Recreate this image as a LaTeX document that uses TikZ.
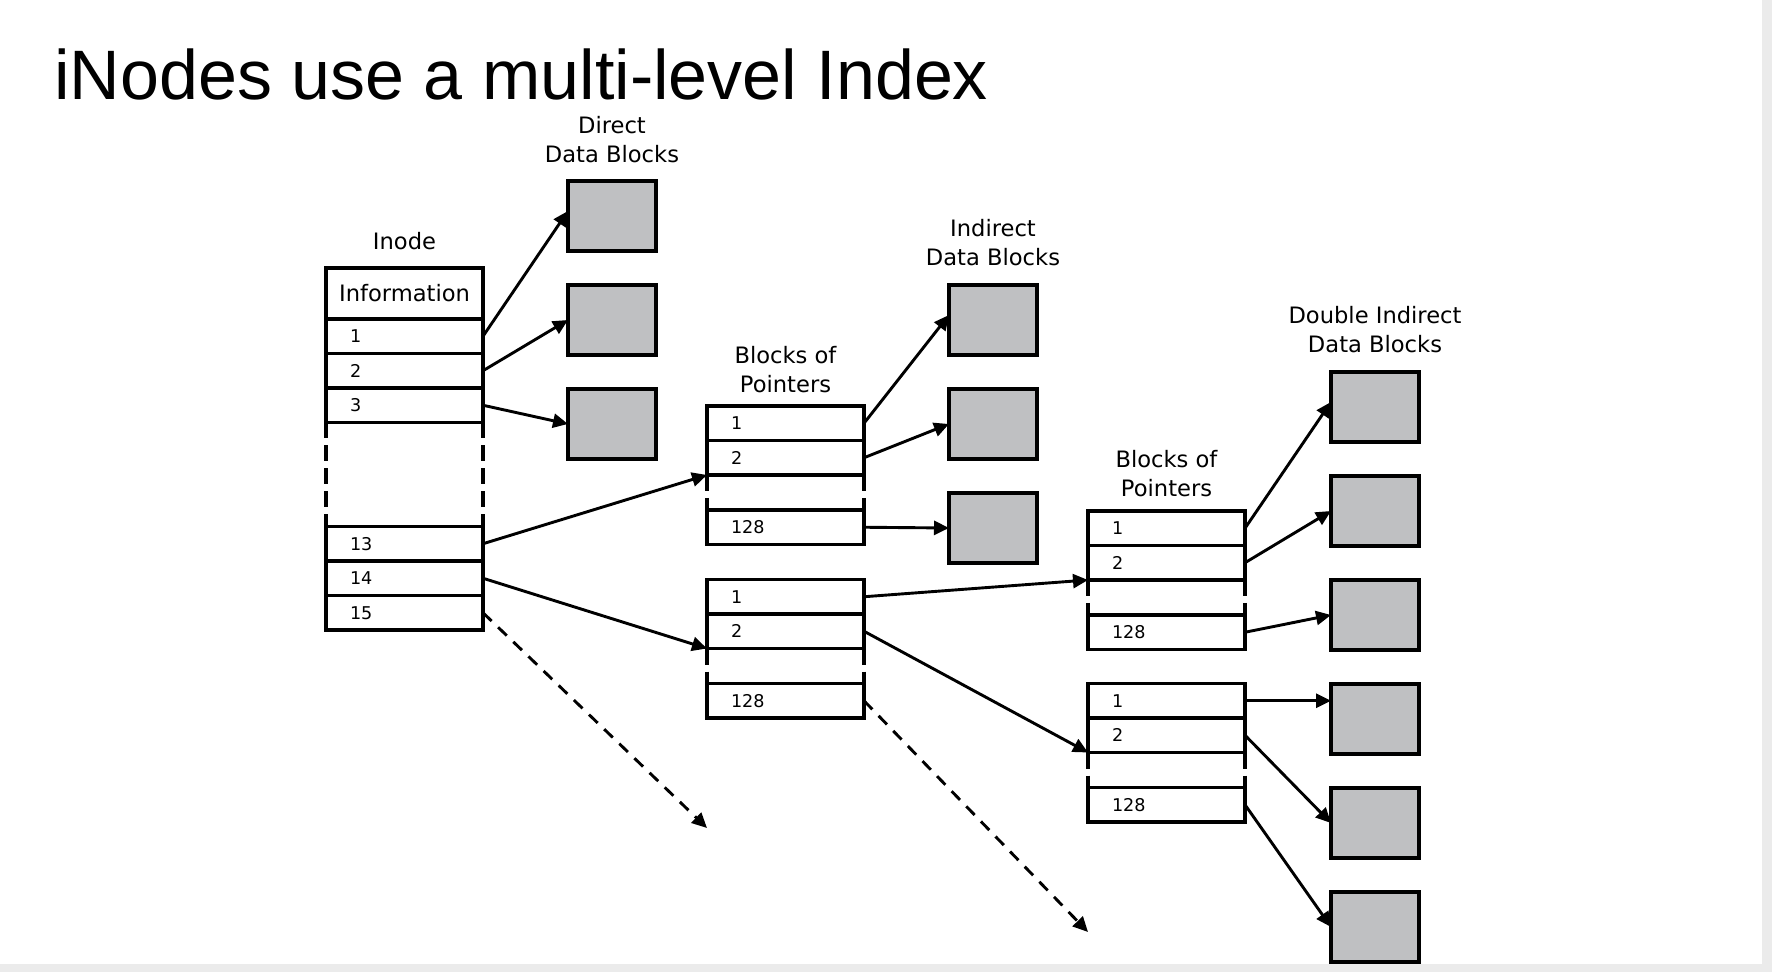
\documentclass[tikz,border=0pt]{standalone}
\usepackage{fontspec}
\usepackage{xcolor}
\usetikzlibrary{positioning,calc,arrows.meta}
\newfontfamily\labelfont{DejaVu Sans}
\newfontfamily\titlefont{Liberation Sans}
\definecolor{blockgray}{RGB}{191,192,194}
\definecolor{slidegray}{RGB}{235,235,235}
\tikzset{
  entry/.style={ % one slot of the inode or of a block of pointers
    draw, rectangle, line width=1.6pt, outer sep=0pt,
    minimum width=78.5pt, minimum height=17.25pt,
    inner xsep=12pt, inner ysep=0pt, text width=54.5pt, align=left,
    font=\labelfont\fontsize{8.8}{10}\selectfont
  },
  info/.style={ % the information slot on top of the inode
    draw, rectangle, line width=1.6pt, outer sep=0pt,
    minimum width=78.5pt, minimum height=25.5pt, inner sep=0pt,
    font=\labelfont\fontsize{11.3}{14}\selectfont
  },
  datablock/.style={ % a grey data block
    draw, rectangle, line width=1.6pt, outer sep=0pt, fill=blockgray,
    minimum width=44pt, minimum height=35pt
  },
  caption/.style={
    align=center, inner sep=0pt, font=\labelfont\fontsize{11.3}{14.3}\selectfont
  },
  gapline/.style={line width=1.6pt, dash pattern=on 8pt off 3.5pt},
  ptr/.style={->, line width=1.45pt},
  more/.style={->, line width=1.45pt, dash pattern=on 6pt off 4.5pt}
}
\begin{document}
\begin{tikzpicture}[x=0.5pt, y=-0.5pt, >={Triangle[length=7.5pt,width=7pt]}]

  \fill[slidegray] (0,0) rectangle (1772,972);
  \fill[white] (0,0) rectangle (1762,964);
  \useasboundingbox (0,0) rectangle (1772,972);

  \node[anchor=base west, inner sep=0pt, font=\titlefont\fontsize{35}{42}\selectfont] (title) at (54,100) {iNodes use a multi-level Index};

  % the inode
  \node[info, anchor=north west] (info) at (326,268) {Information};
  \node[entry, below=0pt of info] (i1) {1};
  \node[entry, below=0pt of i1] (i2) {2};
  \node[entry, below=0pt of i2] (i3) {3};
  \node[entry, below=52pt of i3] (i13) {13};
  \node[entry, below=0pt of i13] (i14) {14};
  \node[entry, below=0pt of i14] (i15) {15};
  \draw[gapline] (i3.south west) -- (i13.north west) (i3.south east) -- (i13.north east);

  % blocks of pointers
  \node[entry, anchor=north west] (pa1) at (707,406) {1};
  \node[entry, below=0pt of pa1] (pa2) {2};
  \node[entry, below=17.5pt of pa2] (pa128) {128};
  \node[entry, below=17.5pt of pa128] (pb1) {1};
  \node[entry, below=0pt of pb1] (pb2) {2};
  \node[entry, below=17.5pt of pb2] (pb128) {128};
  \draw[gapline] (pa2.south west) -- (pa128.north west) (pa2.south east) -- (pa128.north east);
  \draw[gapline] (pb2.south west) -- (pb128.north west) (pb2.south east) -- (pb128.north east);

  \node[entry, anchor=north west] (qa1) at (1088,511) {1};
  \node[entry, below=0pt of qa1] (qa2) {2};
  \node[entry, below=17.5pt of qa2] (qa128) {128};
  \node[entry, below=17pt of qa128] (qb1) {1};
  \node[entry, below=0pt of qb1] (qb2) {2};
  \node[entry, below=17.5pt of qb2] (qb128) {128};
  \draw[gapline] (qa2.south west) -- (qa128.north west) (qa2.south east) -- (qa128.north east);
  \draw[gapline] (qb2.south west) -- (qb128.north west) (qb2.south east) -- (qb128.north east);

  % data blocks
  \node[datablock] (d1) at (612,216) {};
  \node[datablock, below=17pt of d1] (d2) {};
  \node[datablock, below=17pt of d2] (d3) {};

  \node[datablock] (e1) at (993,320) {};
  \node[datablock, below=17pt of e1] (e2) {};
  \node[datablock, below=17pt of e2] (e3) {};

  \node[datablock] (f1) at (1375,407) {};
  \node[datablock, below=17pt of f1] (f2) {};
  \node[datablock, below=17pt of f2] (f3) {};
  \node[datablock, below=17pt of f3] (f4) {};
  \node[datablock, below=17pt of f4] (f5) {};
  \node[datablock, below=17pt of f5] (f6) {};

  % captions
  \node[caption, above=9pt of info] (inode_label) {Inode};
  \node[caption, above=9pt of d1] (direct_label) {Direct\\Data Blocks};
  \node[caption, above=9.5pt of e1] (indirect_label) {Indirect\\Data Blocks};
  \node[caption, above=9.5pt of f1] (dindirect_label) {Double Indirect\\Data Blocks};
  \node[caption, above=6.5pt of pa1] (pa_label) {Blocks of\\Pointers};
  \node[caption, above=7pt of qa1] (qa_label) {Blocks of\\Pointers};

  \coordinate (i15_end) at (707,828);
  \coordinate (pb128_end) at (1088,932);

  % pointers
  \draw[ptr] (i1.east) -- ([yshift=2.5pt]d1.west);
  \draw[ptr] (i2.east) -- (d2.west);
  \draw[ptr] (i3.east) -- (d3.west);
  \draw[ptr] (i13.east) -- (pa2.south west);
  \draw[ptr] (i14.east) -- (pb2.south west);
  \draw[more] (i15.east) -- (i15_end);

  \draw[ptr] (pa1.east) -- ([yshift=2.5pt]e1.west);
  \draw[ptr] (pa2.east) -- (e2.west);
  \draw[ptr] (pa128.east) -- (e3.west);
  \draw[ptr] (pb1.east) -- (qa2.south west);
  \draw[ptr] (pb2.east) -- (qb2.south west);
  \draw[more] (pb128.east) -- (pb128_end);

  \draw[ptr] (qa1.east) -- ([yshift=2.5pt]f1.west);
  \draw[ptr] (qa2.east) -- (f2.west);
  \draw[ptr] (qa128.east) -- (f3.west);
  \draw[ptr] (qb1.east) -- (qb1.east -| f4.west);
  \draw[ptr] (qb2.east) -- (f5.west);
  \draw[ptr] (qb128.east) -- (f6.west);
\end{tikzpicture}
\end{document}
